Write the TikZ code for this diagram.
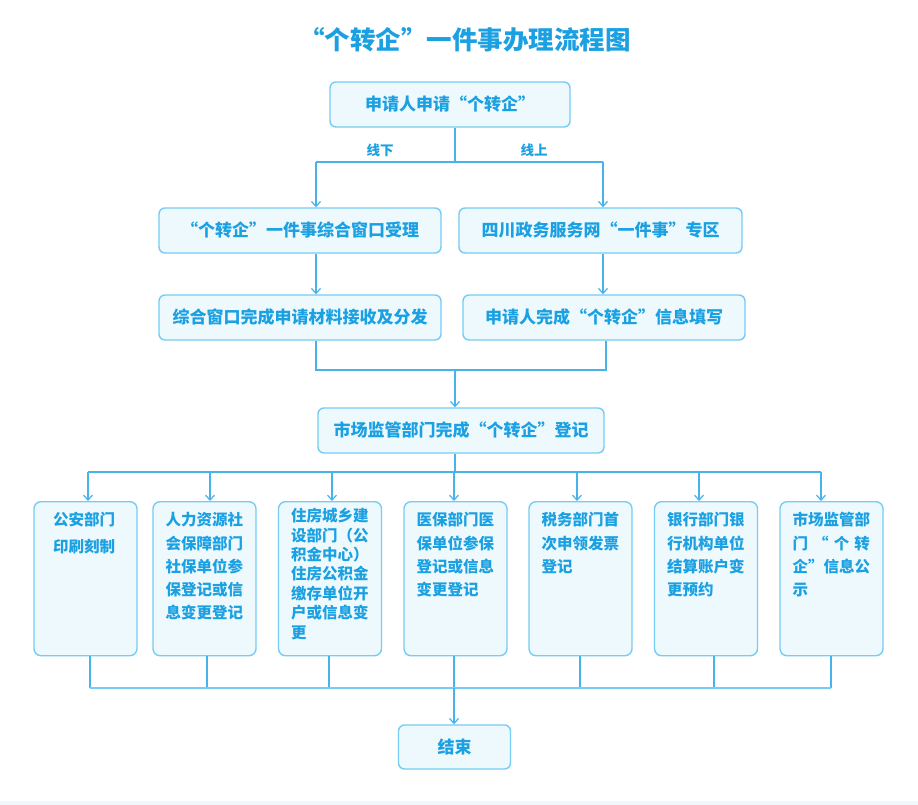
\documentclass[tikz,border=0pt]{standalone}
\usepackage{fontspec}
\setmainfont{Noto Sans CJK SC}
\usetikzlibrary{positioning}
\usetikzlibrary{arrows.meta}
\definecolor{txtblue}{RGB}{27,160,226}
\definecolor{edgeblue}{RGB}{118,204,242}
\definecolor{fillblue}{RGB}{238,249,254}
\definecolor{lineblue}{RGB}{70,180,235}

\begin{document}
\begin{tikzpicture}[x=1pt, y=-1pt,
    box/.style={draw=edgeblue, line width=1.4pt, fill=fillblue, rounded corners=6pt, text=txtblue, font=\bfseries\fontsize{17}{20}\selectfont, minimum height=45pt, inner sep=0pt},
    cell/.style={draw=edgeblue, line width=1.4pt, fill=fillblue, rounded corners=7pt, text=txtblue, font=\bfseries\fontsize{15.5}{23.3}\selectfont, align=left, anchor=north, text width=78pt, inner xsep=12.5pt, inner ysep=6pt, text height=18pt, text depth=124pt},
    tag/.style={text=txtblue, font=\bfseries\fontsize{13.5}{16}\selectfont},
    link/.style={draw=lineblue, line width=1.2pt},
    arr/.style={link, -{Straight Barb[length=5pt, width=9pt]}}]
    \fill[white] (0,0) rectangle (918,805);
    \fill[fillblue] (0,801) rectangle (918,805);

    \node[text=txtblue, font=\bfseries\fontsize{25.5}{30}\selectfont] (title) at (465,40) {“个转企”一件事办理流程图};

    \node[box, minimum width=240pt] (apply) at (450,104.5) {申请人申请“个转企”};
    \node[tag] (offline) at (380,150) {线下};
    \node[tag] (onlinetag) at (534,150) {线上};
    \node[box, minimum width=282pt] (window) at (300,230.5) {“个转企”一件事综合窗口受理};
    \node[box, minimum width=283pt] (online) at (600.5,230.5) {四川政务服务网“一件事”专区};
    \node[box, minimum width=282pt] (collect) at (300,317.5) {综合窗口完成申请材料接收及分发};
    \node[box, minimum width=282pt] (form) at (604,317.5) {申请人完成“个转企”信息填写};
    \node[box, minimum width=286pt] (register) at (461,430.5) {市场监管部门完成“个转企”登记};

    \node[cell, inner xsep=19pt, text width=65pt, font=\bfseries\fontsize{15.5}{27}\selectfont] (police) at (85.5,501) {公安部门\\印刷刻制};
    \node[cell] (hr) at (204.5,501) {人力资源社\\会保障部门\\社保单位参\\保登记或信\\息变更登记};
    \node[cell, font=\bfseries\fontsize{15.5}{19.4}\selectfont, text height=14pt, text depth=128pt] (housing) at (330,501) {住房城乡建\\设部门（公\\积金中心）\\住房公积金\\缴存单位开\\户或信息变\\更};
    \node[cell] (medical) at (455.5,501) {医保部门医\\保单位参保\\登记或信息\\变更登记};
    \node[cell] (tax) at (580.5,501) {税务部门首\\次申领发票\\登记};
    \node[cell] (bank) at (706,501) {银行部门银\\行机构单位\\结算账户变\\更预约};
    \node[cell] (market) at (831.5,501) {市场监管部\\门 “ 个 转\\企”信息公\\示};

    \node[box, minimum width=112pt, minimum height=44pt] (finish) at (454.5,747) {结束};

    % split into offline / online
    \coordinate (split) at (455,162);
    \coordinate (left) at (316,162);
    \coordinate (right) at (603,162);
    \draw[link] (apply.south -| split) -- (split);
    \draw[link] (left) -- (right);
    \draw[arr] (left) -- (left |- window.north);
    \draw[arr] (right) -- (right |- online.north);
    \draw[arr] (window.south -| left) -- (left |- collect.north);
    \draw[arr] (online.south -| right) -- (right |- form.north);

    % join
    \coordinate (joinL) at (316,370);
    \coordinate (joinR) at (606,370);
    \coordinate (join) at (455,370);
    \draw[link] (collect.south -| joinL) -- (joinL) -- (joinR) -- (form.south -| joinR);
    \draw[arr] (join) -- (join |- register.north);

    % fork to departments
    \coordinate (fork) at (455,472);
    \coordinate (t1) at (88,472);
    \coordinate (t2) at (210,472);
    \coordinate (t3) at (332,472);
    \coordinate (t4) at (454,472);
    \coordinate (t5) at (577,472);
    \coordinate (t6) at (699,472);
    \coordinate (t7) at (821,472);
    \draw[link] (register.south -| fork) -- (fork);
    \draw[link] (t1) -- (t7);
    \draw[arr] (t1) -- (t1 |- police.north);
    \draw[arr] (t2) -- (t2 |- hr.north);
    \draw[arr] (t3) -- (t3 |- housing.north);
    \draw[arr] (t4) -- (t4 |- medical.north);
    \draw[arr] (t5) -- (t5 |- tax.north);
    \draw[arr] (t6) -- (t6 |- bank.north);
    \draw[arr] (t7) -- (t7 |- market.north);

    % back together
    \coordinate (u1) at (90,688);
    \coordinate (u2) at (207,688);
    \coordinate (u3) at (329,688);
    \coordinate (u4) at (454,688);
    \coordinate (u5) at (580,688);
    \coordinate (u6) at (714,688);
    \coordinate (u7) at (831,688);
    \draw[link] (u1 |- police.south) -- (u1);
    \draw[link] (u2 |- hr.south) -- (u2);
    \draw[link] (u3 |- housing.south) -- (u3);
    \draw[link] (u4 |- medical.south) -- (u4);
    \draw[link] (u5 |- tax.south) -- (u5);
    \draw[link] (u6 |- bank.south) -- (u6);
    \draw[link] (u7 |- market.south) -- (u7);
    \draw[link, draw=edgeblue, line width=2pt] (u1) -- (u7);
    \draw[arr] (u4) -- (u4 |- finish.north);
\end{tikzpicture}
\end{document}
